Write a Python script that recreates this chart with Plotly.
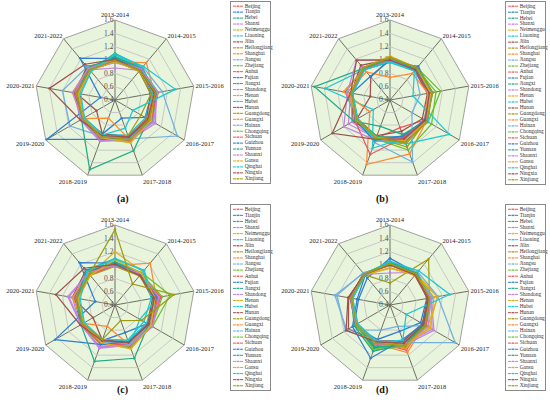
import plotly.graph_objects as go

periods = ["2013-2014", "2014-2015", "2015-2016", "2016-2017", "2017-2018",
           "2018-2019", "2019-2020", "2020-2021", "2021-2022"]

provinces = ["Beijing", "Tianjin", "Hebei", "Shanxi", "Neimenggu", "Liaoning", "Jilin",
             "Heilongjiang", "Shanghai", "Jiangsu", "Zhejiang", "Anhui", "Fujian", "Jiangxi",
             "Shandong", "Henan", "Hubei", "Hunan", "Guangdong", "Guangxi", "Hainan",
             "Chongqing", "Sichuan", "Guizhou", "Yunnan", "Shaanxi", "Gansu", "Qinghai",
             "Ningxia", "Xinjiang"]

radial_ticks = [0.4, 0.6, 0.8, 1.0, 1.2, 1.4, 1.6]

panel_labels = ["(a)", "(b)", "(c)", "(d)"]

values_a = [
    [1.00, 1.02, 0.98, 0.97, 1.00, 0.98, 0.96, 0.98, 1.00],
    [1.03, 1.00, 0.96, 0.92, 0.69, 0.94, 0.95, 0.97, 1.02],
    [1.10, 1.04, 1.00, 0.96, 1.02, 0.99, 0.97, 0.95, 0.98],
    [0.88, 0.98, 1.02, 1.06, 1.00, 1.02, 0.98, 1.00, 0.99],
    [1.00, 0.99, 1.01, 0.98, 1.06, 0.97, 0.95, 0.97, 1.00],
    [1.08, 1.03, 0.97, 0.93, 0.96, 0.95, 0.93, 0.94, 0.97],
    [0.98, 0.97, 0.94, 0.95, 0.98, 0.95, 0.72, 0.99, 1.06],
    [0.99, 0.96, 0.95, 0.85, 0.97, 0.98, 0.96, 0.96, 0.98],
    [0.97, 1.13, 1.00, 0.96, 0.99, 0.97, 0.94, 0.95, 0.99],
    [1.00, 1.01, 1.02, 0.99, 1.01, 1.00, 0.98, 0.99, 1.01],
    [1.01, 1.02, 1.03, 1.00, 1.02, 1.01, 0.99, 0.98, 1.00],
    [1.00, 1.00, 1.04, 1.01, 1.03, 1.02, 0.98, 1.00, 1.00],
    [1.02, 1.01, 1.02, 1.00, 1.03, 1.03, 1.00, 0.99, 1.01],
    [1.04, 1.00, 1.03, 1.02, 1.05, 1.04, 0.99, 1.00, 1.02],
    [0.96, 0.99, 1.03, 1.10, 1.04, 1.06, 1.00, 1.02, 1.00],
    [1.02, 1.00, 1.03, 1.03, 1.08, 1.02, 0.98, 0.99, 1.00],
    [1.05, 1.02, 1.05, 1.04, 1.06, 1.03, 0.98, 0.97, 1.00],
    [1.01, 0.99, 1.02, 1.01, 1.04, 1.02, 0.97, 1.03, 1.04],
    [1.00, 0.98, 1.01, 1.00, 1.06, 1.00, 0.97, 0.99, 1.00],
    [1.01, 0.99, 1.00, 0.98, 1.02, 0.69, 0.96, 1.05, 1.02],
    [0.98, 1.05, 1.12, 1.48, 1.02, 0.98, 1.18, 1.20, 1.05],
    [1.02, 1.01, 1.06, 1.02, 1.05, 1.01, 0.97, 0.98, 1.00],
    [1.00, 1.00, 1.04, 1.03, 1.04, 1.01, 0.97, 0.99, 0.99],
    [1.02, 1.00, 1.03, 0.99, 1.00, 1.03, 1.58, 0.62, 1.22],
    [1.05, 1.02, 1.01, 0.98, 1.21, 1.51, 0.98, 0.97, 1.03],
    [0.99, 1.01, 1.05, 1.07, 1.03, 1.05, 0.98, 1.04, 1.02],
    [0.98, 0.97, 1.00, 1.02, 1.08, 1.00, 0.95, 0.96, 0.98],
    [1.09, 1.06, 1.32, 0.71, 0.85, 0.96, 0.93, 0.92, 0.96],
    [1.01, 0.98, 1.00, 0.97, 0.99, 0.97, 1.00, 1.40, 1.10],
    [0.99, 0.98, 1.02, 0.99, 1.03, 0.99, 0.96, 0.98, 0.99],
]

values_b = [
    [1.00, 0.98, 0.99, 1.00, 0.84, 1.01, 0.98, 0.97, 1.00],
    [0.97, 1.06, 1.04, 1.02, 0.98, 1.00, 0.96, 0.97, 1.00],
    [1.02, 1.00, 1.01, 1.03, 1.00, 0.99, 0.98, 1.08, 1.02],
    [1.00, 0.99, 1.00, 1.02, 1.02, 1.01, 1.12, 1.00, 1.04],
    [1.04, 1.02, 1.00, 1.01, 1.03, 0.99, 0.99, 0.98, 1.01],
    [0.96, 0.97, 0.98, 1.00, 1.01, 1.17, 0.69, 1.39, 1.00],
    [1.01, 0.98, 0.97, 0.96, 0.90, 0.97, 1.04, 0.99, 1.08],
    [1.03, 1.00, 1.02, 1.04, 1.10, 1.00, 0.98, 0.98, 1.00],
    [0.74, 0.92, 0.98, 1.00, 1.02, 0.98, 0.96, 1.05, 0.95],
    [1.02, 1.01, 1.00, 1.02, 1.00, 1.01, 0.99, 0.99, 1.01],
    [1.01, 1.03, 1.17, 1.06, 1.05, 1.00, 0.98, 0.99, 1.02],
    [1.00, 1.00, 1.02, 1.04, 1.03, 1.00, 0.98, 0.98, 1.00],
    [1.02, 1.04, 1.05, 1.03, 1.00, 1.02, 0.99, 0.98, 1.00],
    [1.03, 1.01, 1.03, 1.05, 1.02, 0.98, 0.97, 1.00, 1.02],
    [1.00, 0.99, 1.00, 1.01, 1.01, 1.02, 1.06, 0.99, 1.03],
    [1.05, 1.02, 1.02, 1.03, 1.05, 1.01, 0.99, 1.00, 1.02],
    [1.02, 1.01, 1.03, 1.06, 1.04, 1.03, 1.00, 0.99, 1.01],
    [1.01, 1.00, 1.02, 1.04, 1.06, 1.02, 0.98, 0.70, 0.85],
    [1.04, 1.01, 1.00, 1.02, 1.15, 1.00, 0.98, 0.99, 1.02],
    [1.02, 1.00, 1.01, 1.03, 1.26, 1.43, 0.75, 1.11, 1.00],
    [0.99, 0.98, 0.86, 0.78, 1.39, 1.08, 0.97, 0.98, 1.01],
    [1.03, 1.02, 1.10, 1.12, 1.20, 1.02, 0.98, 0.99, 1.01],
    [1.01, 1.00, 1.01, 1.02, 1.00, 1.27, 1.01, 0.98, 1.00],
    [1.00, 1.00, 1.02, 1.00, 0.97, 1.06, 1.00, 0.98, 0.86],
    [1.02, 1.01, 1.02, 1.03, 0.95, 0.82, 1.03, 1.55, 1.02],
    [1.01, 0.99, 1.01, 1.02, 1.03, 1.04, 1.20, 1.05, 1.18],
    [1.06, 1.03, 1.02, 1.04, 1.05, 1.00, 0.99, 1.00, 1.03],
    [0.98, 0.97, 0.75, 1.43, 1.10, 1.05, 0.96, 0.97, 0.99],
    [1.00, 0.99, 1.00, 1.01, 1.02, 1.03, 1.40, 1.00, 1.18],
    [1.04, 1.03, 1.05, 1.04, 1.08, 1.01, 0.98, 0.99, 1.03],
]

values_c = [
    [1.00, 0.99, 1.10, 1.02, 1.00, 0.96, 0.98, 1.00, 1.00],
    [1.02, 1.00, 1.03, 0.96, 0.84, 0.97, 0.96, 0.97, 1.05],
    [1.04, 1.02, 1.00, 0.99, 1.05, 1.00, 0.97, 0.98, 1.06],
    [1.00, 1.00, 1.05, 1.03, 1.00, 1.08, 0.99, 1.12, 1.02],
    [1.20, 1.05, 1.02, 1.00, 1.02, 0.98, 0.96, 0.97, 0.99],
    [1.10, 1.08, 0.98, 0.95, 0.97, 0.95, 0.94, 0.95, 1.08],
    [1.00, 0.98, 0.97, 0.97, 0.99, 0.96, 0.78, 1.05, 1.08],
    [0.98, 0.97, 1.00, 0.98, 1.02, 0.99, 0.97, 0.96, 0.98],
    [0.99, 1.22, 1.03, 1.00, 1.01, 0.98, 0.96, 0.97, 1.00],
    [1.01, 1.02, 1.02, 1.01, 1.03, 1.01, 0.99, 1.00, 1.02],
    [1.00, 1.03, 1.24, 1.05, 1.03, 1.01, 0.98, 0.99, 1.01],
    [1.01, 1.01, 1.08, 1.03, 1.04, 1.02, 0.99, 1.00, 1.00],
    [1.02, 1.02, 1.04, 1.02, 1.03, 1.02, 1.00, 0.99, 1.02],
    [1.03, 1.01, 1.05, 1.04, 1.06, 1.03, 0.99, 1.01, 1.03],
    [0.99, 1.00, 1.06, 1.04, 1.05, 1.06, 1.00, 1.05, 1.03],
    [1.03, 1.02, 1.04, 1.03, 1.08, 1.03, 0.98, 1.00, 1.01],
    [1.05, 1.03, 1.06, 0.83, 1.04, 1.02, 0.97, 0.98, 1.00],
    [1.01, 1.00, 1.03, 1.02, 1.05, 1.02, 0.98, 1.02, 1.04],
    [1.00, 0.99, 1.02, 1.03, 1.09, 1.01, 0.97, 0.99, 1.00],
    [1.01, 1.00, 1.01, 0.99, 1.04, 0.74, 0.95, 1.04, 1.02],
    [0.99, 1.01, 1.05, 1.02, 1.03, 0.99, 0.96, 1.00, 1.02],
    [1.02, 1.01, 1.12, 1.04, 1.06, 1.01, 0.98, 0.99, 1.01],
    [1.00, 1.00, 1.05, 1.03, 1.05, 1.01, 0.97, 0.99, 0.99],
    [1.03, 1.00, 1.03, 0.98, 0.99, 1.03, 1.44, 0.70, 1.23],
    [1.04, 1.02, 1.01, 0.98, 1.25, 1.30, 0.99, 0.98, 1.07],
    [1.00, 1.01, 1.07, 1.05, 1.04, 1.09, 0.99, 1.10, 1.03],
    [1.08, 1.02, 1.01, 1.02, 1.10, 1.00, 0.95, 0.96, 0.98],
    [1.09, 1.07, 0.95, 0.90, 0.96, 0.95, 0.93, 0.93, 1.05],
    [1.01, 0.98, 1.00, 0.98, 1.00, 0.97, 1.00, 1.30, 1.12],
    [1.53, 0.81, 1.30, 0.86, 0.65, 0.95, 0.96, 0.98, 1.00],
]

values_d = [
    [1.02, 1.00, 0.98, 0.99, 1.12, 1.00, 0.98, 0.99, 1.00],
    [1.10, 1.03, 0.96, 0.93, 0.82, 0.95, 1.02, 0.88, 0.93],
    [1.05, 1.01, 0.98, 0.98, 1.00, 1.05, 0.99, 0.97, 0.99],
    [0.88, 1.04, 1.02, 1.13, 1.02, 1.00, 0.98, 0.99, 1.00],
    [0.95, 1.00, 1.07, 1.10, 1.03, 0.99, 0.97, 0.98, 0.99],
    [1.04, 1.02, 0.99, 0.96, 0.97, 0.98, 0.96, 0.97, 0.98],
    [1.00, 0.98, 0.97, 0.96, 0.98, 0.97, 1.12, 1.03, 1.00],
    [0.73, 1.30, 1.00, 0.98, 1.02, 0.99, 0.97, 0.98, 0.99],
    [1.01, 1.00, 0.99, 1.00, 1.16, 1.02, 0.97, 0.98, 1.00],
    [1.02, 1.03, 1.05, 1.02, 0.74, 0.80, 1.15, 1.24, 1.02],
    [1.03, 1.01, 1.00, 1.01, 1.04, 1.10, 0.99, 0.99, 1.01],
    [1.01, 1.00, 1.01, 1.02, 1.07, 1.03, 0.98, 0.99, 1.00],
    [1.03, 1.02, 1.01, 1.00, 1.03, 1.08, 1.00, 0.98, 1.00],
    [1.04, 1.01, 1.01, 1.02, 1.05, 1.07, 0.99, 1.00, 1.01],
    [1.00, 0.99, 1.03, 1.16, 1.04, 1.02, 0.99, 1.00, 1.01],
    [1.02, 1.01, 1.13, 1.05, 1.06, 1.03, 0.98, 0.99, 1.00],
    [1.06, 1.03, 1.01, 1.00, 1.04, 1.02, 0.98, 0.98, 1.00],
    [1.01, 1.00, 1.00, 1.01, 1.05, 1.02, 0.99, 1.01, 1.02],
    [1.03, 1.02, 1.00, 1.01, 1.07, 1.01, 0.98, 0.99, 1.01],
    [1.00, 0.99, 1.00, 1.02, 1.10, 1.00, 0.97, 0.98, 1.00],
    [0.99, 1.05, 1.13, 1.53, 1.00, 0.97, 1.17, 1.21, 1.03],
    [1.03, 1.02, 1.02, 1.03, 1.06, 1.12, 0.99, 0.99, 1.01],
    [1.01, 1.00, 1.01, 1.02, 1.05, 1.02, 0.98, 0.99, 1.00],
    [1.05, 1.01, 0.99, 0.97, 0.95, 1.25, 1.05, 0.90, 0.98],
    [1.04, 1.02, 1.00, 1.00, 1.02, 1.14, 1.02, 0.99, 1.00],
    [1.00, 1.00, 1.02, 1.06, 1.03, 1.02, 0.99, 1.00, 1.01],
    [0.96, 0.98, 1.12, 1.08, 1.05, 1.00, 0.97, 0.98, 0.99],
    [1.05, 1.07, 1.31, 0.68, 0.96, 1.00, 0.96, 0.97, 0.99],
    [1.00, 0.99, 0.99, 0.98, 1.01, 0.99, 1.16, 1.04, 1.00],
    [1.02, 1.01, 1.00, 1.01, 1.05, 1.01, 0.98, 0.99, 1.00],
]

palette = ["#f2545b", "#2f7fd0", "#22ab86", "#c283e0", "#e0ae1c", "#1ec8d2",
           "#a0504a", "#a09c10", "#ff8a30", "#72b0e0", "#6cc030"]

W, H = 550, 413
SERIF = "Liberation Serif"

panels = [values_a, values_b, values_c, values_d]
centers = [(115, 100), (390, 100), (115, 305), (390, 305)]
legend_boxes = [(231, 270, 2, 183), (506, 545, 2, 184), (231, 270, 205, 390), (506, 545, 205, 390)]
label_pos = [(115, 199), (390, 199), (115, 398), (390, 398)]
R = 80

fig = go.Figure()
layout = dict(width=W, height=H, margin=dict(l=0, r=0, t=0, b=0, pad=0),
              paper_bgcolor="white", plot_bgcolor="white", showlegend=False,
              font=dict(family=SERIF, color="#222"))
annotations = []

for p, vals in enumerate(panels):
    pname = "polar" if p == 0 else f"polar{p+1}"
    cx, cy = centers[p]
    layout[pname] = dict(
        domain=dict(x=[(cx - R) / W, (cx + R) / W], y=[1 - (cy + R) / H, 1 - (cy - R) / H]),
        bgcolor="#e8f5dc",
        gridshape="linear",
        radialaxis=dict(range=[0.4, 1.6], tickvals=radial_ticks,
                        ticktext=[f"{t:.1f}" for t in radial_ticks],
                        angle=90, tickangle=90, side="counterclockwise", showline=False, ticks="",
                        gridcolor="#c8c8c8", gridwidth=0.8, layer="below traces",
                        tickfont=dict(size=7.5, color="#555", family=SERIF)),
        angularaxis=dict(direction="clockwise", rotation=90, ticks="",
                         gridcolor="#6e6e60", gridwidth=0.9,
                         showline=True, linecolor="#a0a0a0", linewidth=1,
                         layer="below traces",
                         tickfont=dict(size=6.5, color="#222", family=SERIF)),
    )
    for i, name in enumerate(provinces):
        row = vals[i]
        fig.add_trace(go.Scatterpolar(
            r=row + [row[0]], theta=periods + [periods[0]], name=name,
            mode="lines+markers", subplot=pname,
            line=dict(color=palette[i % len(palette)], width=1.25),
            marker=dict(size=2.4, color=palette[i % len(palette)]),
        ))

    # legend drawn as a small cartesian panel
    x0, x1, y0, y1 = legend_boxes[p]
    xa = "xaxis" if p == 0 else f"xaxis{p+1}"
    ya = "yaxis" if p == 0 else f"yaxis{p+1}"
    xref = "x" if p == 0 else f"x{p+1}"
    yref = "y" if p == 0 else f"y{p+1}"
    layout[xa] = dict(domain=[x0 / W, x1 / W], range=[0, 10], anchor=yref,
                      showgrid=False, zeroline=False, showticklabels=False, ticks="",
                      showline=True, mirror=True, linecolor="#8a8a8a", linewidth=0.8,
                      fixedrange=True)
    layout[ya] = dict(domain=[1 - y1 / H, 1 - y0 / H], range=[29.7, -0.7], anchor=xref,
                      showgrid=False, zeroline=False, showticklabels=False, ticks="",
                      showline=True, mirror=True, linecolor="#8a8a8a", linewidth=0.8,
                      fixedrange=True)
    for i, name in enumerate(provinces):
        c = palette[i % len(palette)]
        fig.add_trace(go.Scatter(
            x=[0.5, 1.8, 3.1], y=[i, i, i], mode="lines+markers", xaxis=xref, yaxis=yref,
            line=dict(color=c, width=1), marker=dict(size=[0, 3, 0], color=c),
            hoverinfo="skip", showlegend=False))
    fig.add_trace(go.Scatter(
        x=[3.5] * len(provinces), y=list(range(len(provinces))), text=provinces,
        mode="text", textposition="middle right", xaxis=xref, yaxis=yref,
        textfont=dict(size=5.4, color="#333", family=SERIF),
        cliponaxis=False, hoverinfo="skip", showlegend=False))

    lx, ly = label_pos[p]
    annotations.append(dict(text=f"<b>{panel_labels[p]}</b>", x=lx / W, y=1 - ly / H,
                            xref="paper", yref="paper", showarrow=False,
                            font=dict(size=10, family=SERIF, color="#111")))

layout["annotations"] = annotations
fig.update_layout(**layout)
fig.write_html("out.html", config={"displayModeBar": False},
               post_script="document.body.style.margin='0px';document.body.style.overflow='hidden';")
